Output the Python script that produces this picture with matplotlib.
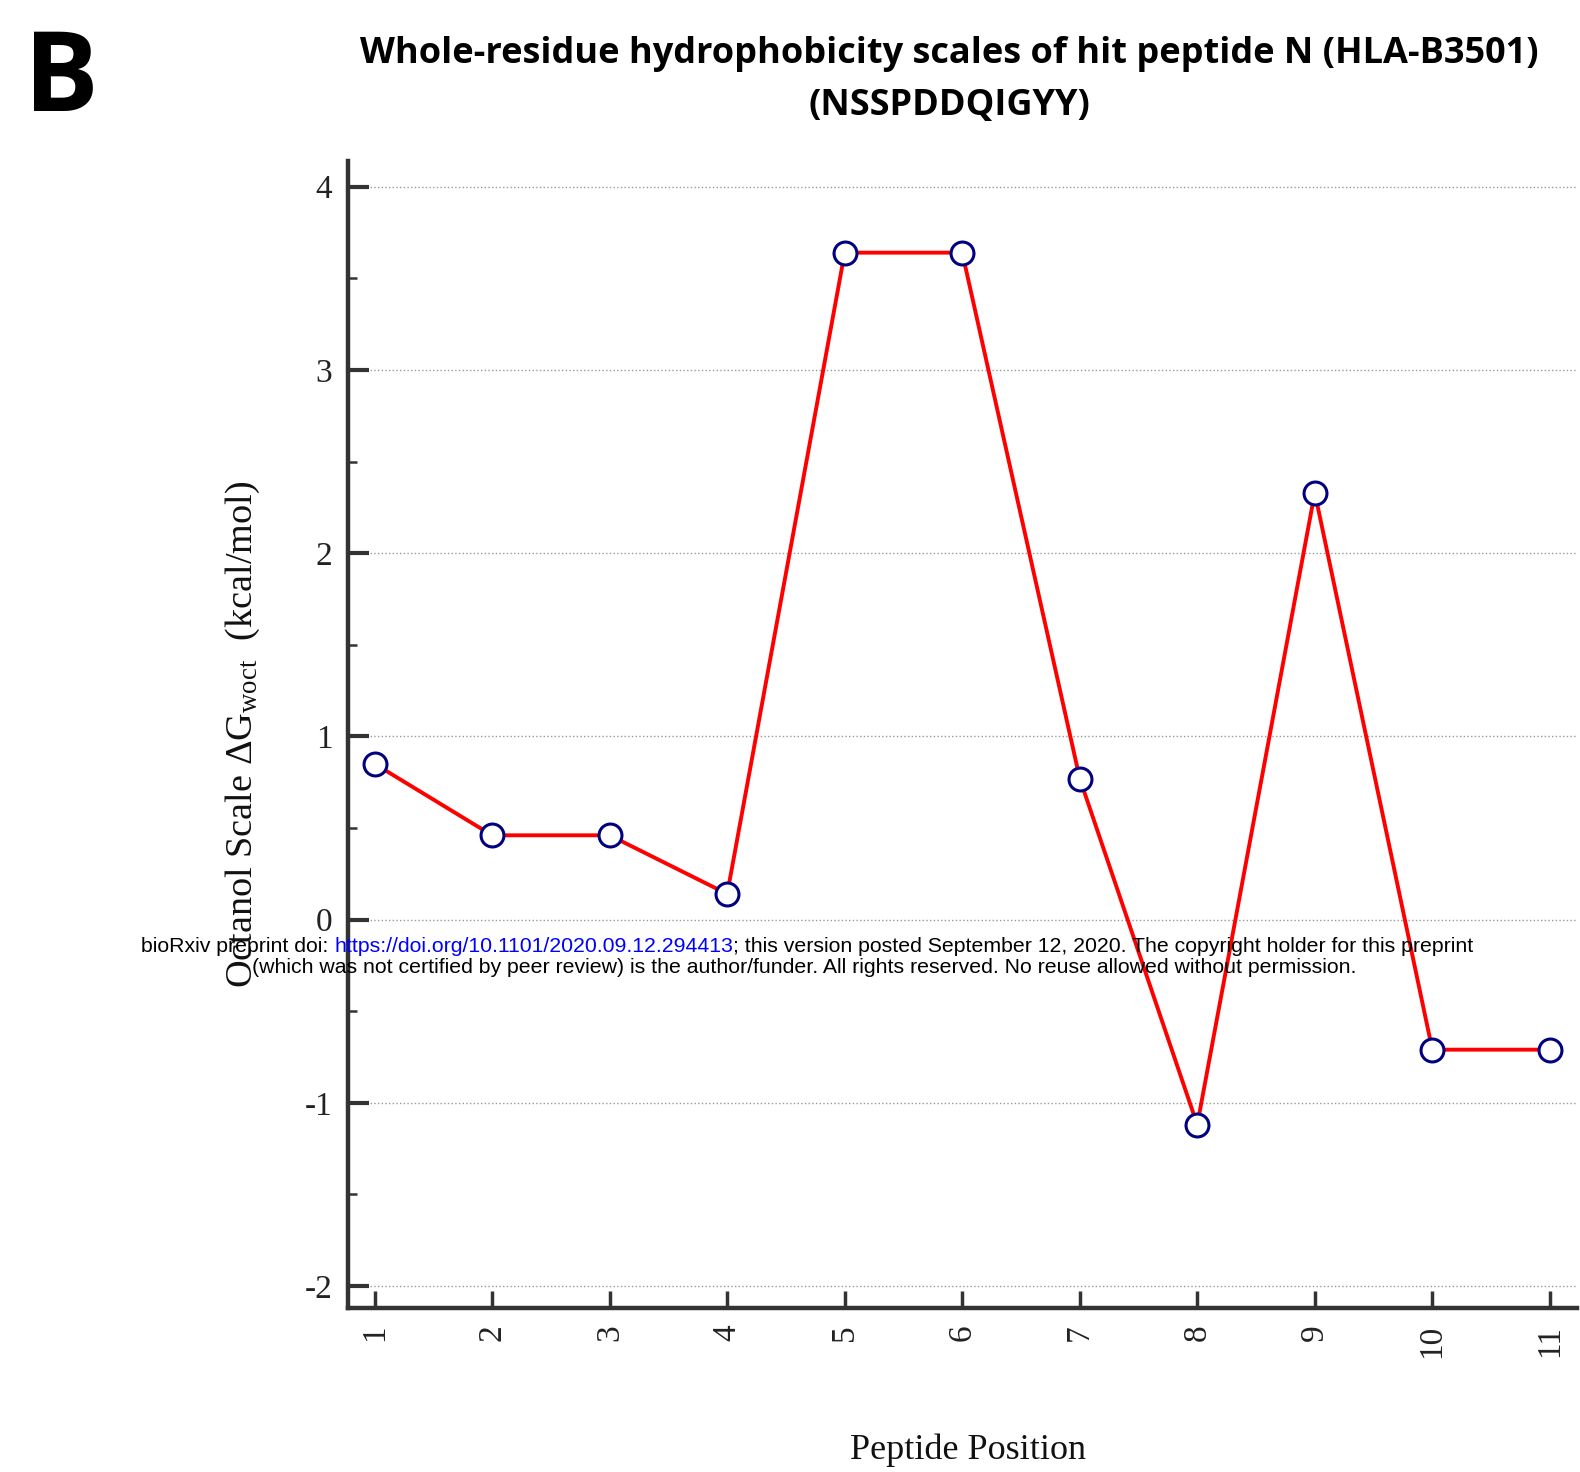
import matplotlib
matplotlib.use('Agg')
import matplotlib.pyplot as plt
from matplotlib.ticker import MultipleLocator

# Datos
positions = [1, 2, 3, 4, 5, 6, 7, 8, 9, 10, 11]
dg_woct = [0.85, 0.46, 0.46, 0.14, 3.64, 3.64, 0.77, -1.12, 2.33, -0.71, -0.71]
y_ticks = [-2, -1, 0, 1, 2, 3, 4]

title_1 = "Whole-residue hydrophobicity scales of hit peptide N (HLA-B3501)"
title_2 = "(NSSPDDQIGYY)"
panel = "B"
ylabel = "Octanol Scale ΔG$_{\\mathrm{woct}}$  (kcal/mol)"
xlabel = "Peptide Position"
wm_a = "bioRxiv preprint doi: "
wm_url = "https://doi.org/10.1101/2020.09.12.294413"
wm_b = "; this version posted September 12, 2020. The copyright holder for this preprint"
wm_line2 = "(which was not certified by peer review) is the author/funder. All rights reserved. No reuse allowed without permission."

plt.rcParams['mathtext.fontset'] = 'custom'
plt.rcParams['mathtext.rm'] = 'Liberation Serif'
plt.rcParams['mathtext.it'] = 'Liberation Serif:italic'

fig = plt.figure(figsize=(15.8, 14.72), dpi=100)
ax = fig.add_axes([0.220, 0.1114, 0.778, 0.7792])

# Linea y marcadores
ax.plot(positions, dg_woct, color='#ff0000', lw=2.8, zorder=3)
ax.plot(positions, dg_woct, 'o', ms=16.5, mfc='white', mec='#000080', mew=2.2, zorder=4)

ax.set_xlim(0.77, 11.23)
ax.set_ylim(-2.12, 4.14)
ax.set_xticks(positions)
ax.set_xticklabels([str(p) for p in positions], rotation=90, family='Liberation Serif', fontsize=24, color='#222222')
ax.set_yticks(y_ticks)
ax.set_yticklabels([str(t) for t in y_ticks], family='Liberation Serif', fontsize=24, color='#222222')
ax.yaxis.set_minor_locator(MultipleLocator(0.5))

ax.tick_params(axis='y', which='major', direction='in', length=15, width=3, color='#333333', pad=11)
ax.tick_params(axis='y', which='minor', direction='in', length=6.5, width=1.8, color='#333333')
ax.tick_params(axis='x', which='major', direction='in', length=12.5, width=2.5, color='#333333', pad=12)

ax.yaxis.grid(True, which='major', linestyle=':', color='#999999', lw=1)
ax.set_axisbelow(True)

for s in ['top', 'right']:
    ax.spines[s].set_visible(False)
for s in ['left', 'bottom']:
    ax.spines[s].set_color('#333333')
    ax.spines[s].set_linewidth(3.2)

ax.set_ylabel(ylabel, family='Liberation Serif', fontsize=27.5, color='#111111')
ax.yaxis.set_label_coords(-0.070, 0.5)
ax.set_xlabel(xlabel, family='Liberation Serif', fontsize=26, color='#111111')
ax.xaxis.label.set_va('center')
ax.xaxis.set_label_coords(0.505, -0.124)

# Titulo (dos lineas) y letra del panel
fig.text(0.601, 0.963, title_1, ha='center', va='center', fontsize=26, fontweight='bold', family='Open Sans')
fig.text(0.601, 0.928, title_2, ha='center', va='center', fontsize=26, fontweight='bold', family='Open Sans')
fig.text(0.039, 0.944, panel, ha='center', va='center', fontsize=80, fontweight='bold', family='Open Sans')

# Marca de agua de bioRxiv
wm_size = 15.3
t1 = fig.text(0.0895, 0.357, wm_a, fontsize=wm_size, family='Liberation Sans', va='center', zorder=10)
t2 = ax.annotate(wm_url, xy=(1, 0), xycoords=t1, va='bottom', ha='left', fontsize=wm_size,
                 family='Liberation Sans', color='#0000ff', annotation_clip=False, zorder=10)
t3 = ax.annotate(wm_b, xy=(1, 0), xycoords=t2, va='bottom', ha='left', fontsize=wm_size,
                 family='Liberation Sans', color='black', annotation_clip=False, zorder=10)
fig.text(0.509, 0.343, wm_line2, fontsize=wm_size, family='Liberation Sans', ha='center', va='center', zorder=10)

fig.savefig('out.png', dpi=100)
